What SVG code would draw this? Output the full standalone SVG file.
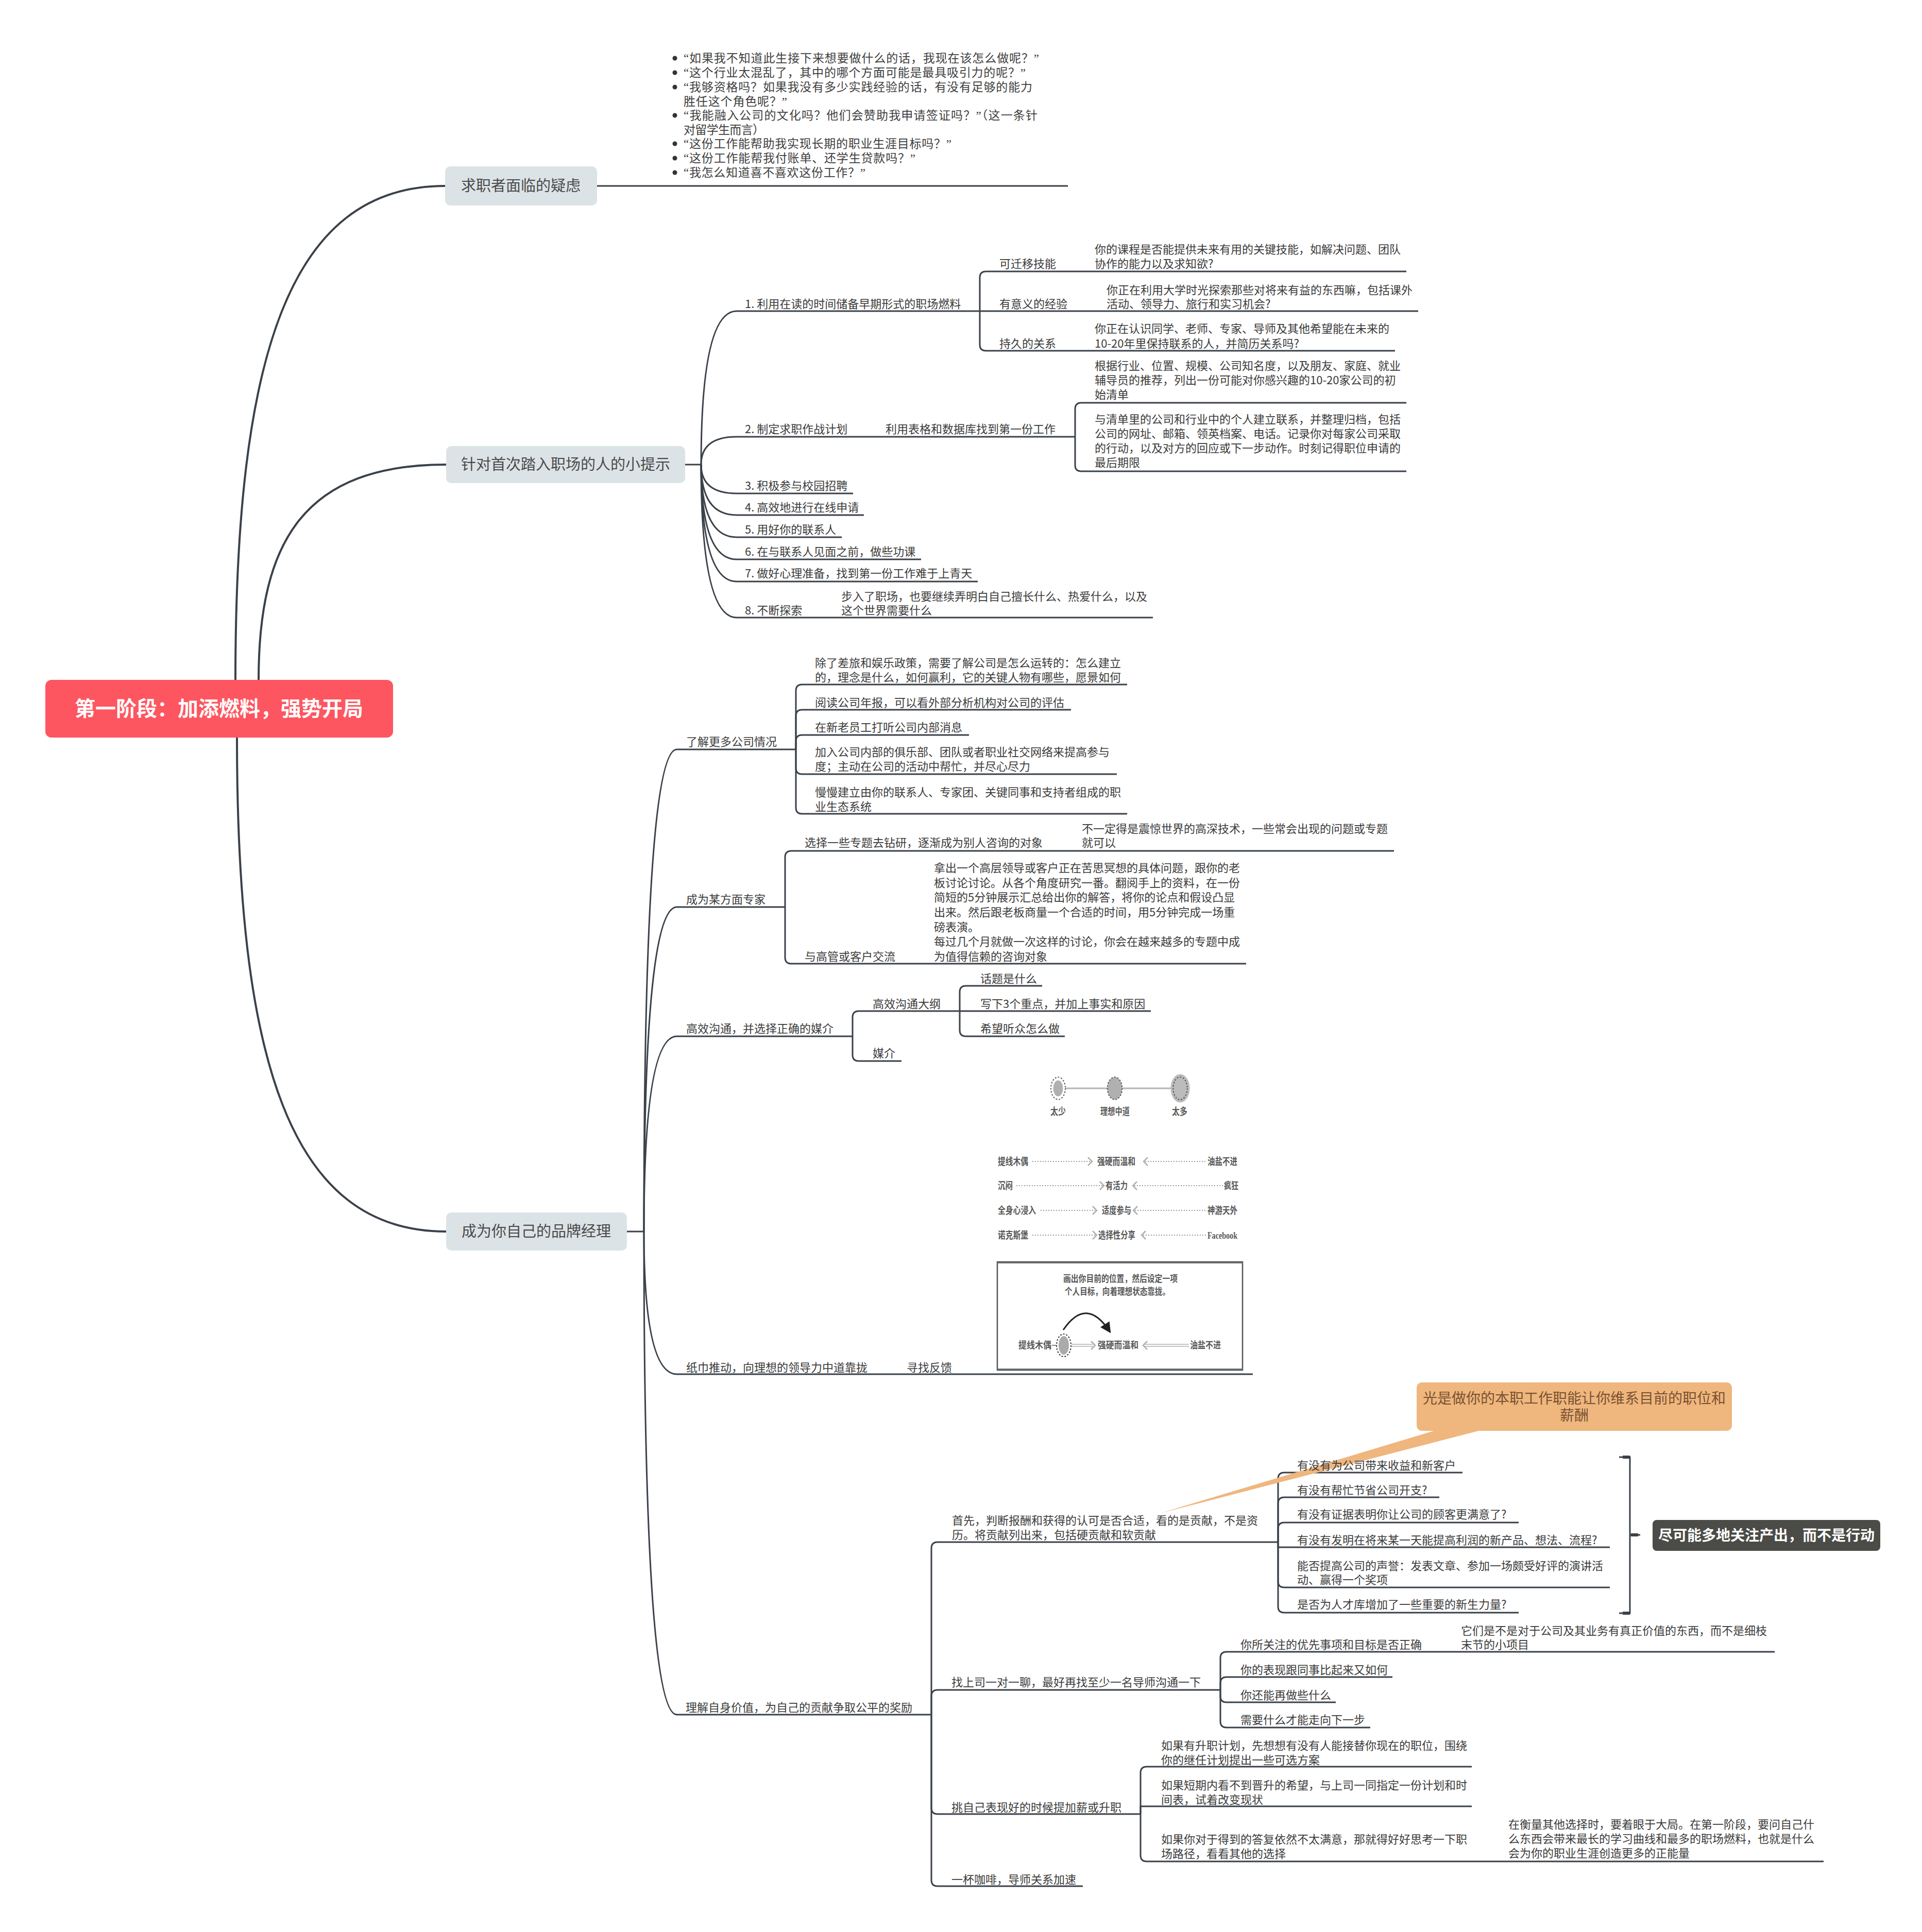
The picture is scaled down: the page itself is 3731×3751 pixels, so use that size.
<svg xmlns="http://www.w3.org/2000/svg" width="3731" height="3751" viewBox="0 0 3731 3751">
<defs>
<style>
.c{fill:none;stroke:#3a4149;stroke-width:3;stroke-linecap:butt}
.rc{fill:none;stroke:#3a4149;stroke-width:4}
.t{font-family:"Noto Sans CJK SC","Liberation Sans",sans-serif;font-size:22px;fill:#3b3b3b}
.mb{font-family:"Noto Sans CJK SC","Liberation Sans",sans-serif;font-size:29px;fill:#4a4a4a;text-anchor:middle}
.rt{font-family:"Noto Sans CJK SC","Liberation Sans",sans-serif;font-size:40px;font-weight:bold;fill:#ffffff;text-anchor:middle}
.sm{font-family:"Noto Sans CJK SC","Liberation Sans",sans-serif;font-size:28px;font-weight:bold;fill:#ffffff;text-anchor:middle}
.co{font-family:"Noto Sans CJK SC","Liberation Sans",sans-serif;font-size:28px;fill:#7a5230;text-anchor:middle}
.bl{font-family:"Liberation Serif","Noto Sans CJK SC",serif;font-size:23px;fill:#404040}
.sf{font-family:"Liberation Serif","Noto Sans CJK SC",serif;font-weight:bold;fill:#585858;font-size:19px}
.dot{fill:none;stroke:#9a9a9a;stroke-width:2;stroke-dasharray:2 3}
.chev{fill:none;stroke:#b0b0b0;stroke-width:2.5}
.gl{fill:none;stroke:#b4b4b4;stroke-width:3}
</style>
<marker id="ah" viewBox="0 0 10 10" refX="8" refY="5" markerWidth="7" markerHeight="7" orient="auto">
<path d="M0,0 L10,5 L0,10 z" fill="#222"/>
</marker>
</defs>
<rect width="3731" height="3751" fill="#ffffff"/>

<g id="connectors">
<path class="rc" d="M457,1320 C457,697 559,361 864,361"/>
<path class="rc" d="M502,1320 C502,1048 593,902 866,902"/>
<path class="rc" d="M460,1432 C460,2055 561,2391 866,2391"/>
<path class="c" d="M1159,361 H2073"/>
<path class="c" d="M1330,902 H1361"/>
<path class="c" d="M1361,902 Q1361,604 1430,604 H1902"/>
<path class="c" d="M1361,902 Q1361,848 1430,848 H2087"/>
<path class="c" d="M1361,902 Q1361,958 1430,958 H1656"/>
<path class="c" d="M1361,902 Q1361,1000 1430,1000 H1677"/>
<path class="c" d="M1361,902 Q1361,1043 1430,1043 H1634"/>
<path class="c" d="M1361,902 Q1361,1086 1430,1086 H1788"/>
<path class="c" d="M1361,902 Q1361,1129 1430,1129 H1898"/>
<path class="c" d="M1361,902 Q1361,1199 1430,1199 H2238"/>
<path class="c" d="M1902,604 V539 Q1902,527 1914,527 H2730"/>
<path class="c" d="M1902,604 H2753"/>
<path class="c" d="M1902,604 V669 Q1902,681 1914,681 H2708"/>
<path class="c" d="M2087,848 V794 Q2087,782 2099,782 H2730"/>
<path class="c" d="M2087,848 V903 Q2087,915 2099,915 H2730"/>
<path class="c" d="M1217,2391 H1250"/>
<path class="c" d="M1250,2391 Q1250,1455 1314,1455 H1545"/>
<path class="c" d="M1250,2391 Q1250,1761 1314,1761 H1524"/>
<path class="c" d="M1250,2391 Q1250,2012 1314,2012 H1655"/>
<path class="c" d="M1250,2391 Q1250,2668 1314,2668 H2432"/>
<path class="c" d="M1250,2391 Q1250,3329 1314,3329 H1808"/>
<path class="c" d="M1545,1455 V1341 Q1545,1329 1557,1329 H2188"/>
<path class="c" d="M1545,1455 V1390 Q1545,1378 1557,1378 H2079"/>
<path class="c" d="M1545,1455 V1439 Q1545,1427 1557,1427 H1881"/>
<path class="c" d="M1545,1455 V1491 Q1545,1503 1557,1503 H2168"/>
<path class="c" d="M1545,1455 V1568 Q1545,1580 1557,1580 H2188"/>
<path class="c" d="M1524,1761 V1664 Q1524,1652 1536,1652 H2706"/>
<path class="c" d="M1524,1761 V1859 Q1524,1871 1536,1871 H2419"/>
<path class="c" d="M1655,2012 V1975 Q1655,1963 1667,1963 H1863"/>
<path class="c" d="M1655,2012 V2048 Q1655,2060 1667,2060 H1750"/>
<path class="c" d="M1863,1963 V1926 Q1863,1914 1875,1914 H2023"/>
<path class="c" d="M1863,1963 H2234"/>
<path class="c" d="M1863,1963 V2000 Q1863,2012 1875,2012 H2067"/>
<path class="c" d="M1808,3329 V3006 Q1808,2994 1820,2994 H2481"/>
<path class="c" d="M1808,3329 V3293 Q1808,3281 1820,3281 H2369"/>
<path class="c" d="M1808,3329 V3510 Q1808,3522 1820,3522 H2214"/>
<path class="c" d="M1808,3329 V3650 Q1808,3662 1820,3662 H2102"/>
<path class="c" d="M2481,2994 V2871 Q2481,2859 2493,2859 H2839"/>
<path class="c" d="M2481,2994 V2919 Q2481,2907 2493,2907 H2794"/>
<path class="c" d="M2481,2994 V2968 Q2481,2956 2493,2956 H2948"/>
<path class="c" d="M2481,2994 V3004 H3125"/>
<path class="c" d="M2481,2994 V3070 Q2481,3082 2493,3082 H3125"/>
<path class="c" d="M2481,2994 V3119 Q2481,3131 2493,3131 H2948"/>
<path class="c" d="M2369,3281 V3219 Q2369,3207 2381,3207 H3445"/>
<path class="c" d="M2369,3281 V3268 Q2369,3256 2381,3256 H2703"/>
<path class="c" d="M2369,3281 V3293 Q2369,3305 2381,3305 H2593"/>
<path class="c" d="M2369,3281 V3342 Q2369,3354 2381,3354 H2660"/>
<path class="c" d="M2214,3522 V3442 Q2214,3430 2226,3430 H2857"/>
<path class="c" d="M2214,3522 V3507 H2857"/>
<path class="c" d="M2214,3522 V3602 Q2214,3614 2226,3614 H3540"/>
<path class="c" d="M3143,2829 H3164 V3132 H3143 M3164,2980 H3184"/>
<path class="c" style="stroke-width:6" d="M3150,2829 H3164 M3150,3132 H3164 M3166,2980 H3180"/>
</g>

<g id="n-root">
<rect x="88" y="1320" width="675" height="112" rx="12" fill="#fd5660"/>
<text class="rt" x="425" y="1390">第一阶段：加添燃料，强势开局</text>
</g>

<g id="n-b1">
<rect x="864" y="323" width="295" height="76" rx="10" fill="#dce3e6"/>
<text class="mb" x="1011" y="371">求职者面临的疑虑</text>
</g>
<g id="n-b1-list">
<circle cx="1310" cy="113" r="4.5" fill="#333"/>
<circle cx="1310" cy="141" r="4.5" fill="#333"/>
<circle cx="1310" cy="169" r="4.5" fill="#333"/>
<circle cx="1310" cy="224" r="4.5" fill="#333"/>
<circle cx="1310" cy="279" r="4.5" fill="#333"/>
<circle cx="1310" cy="307" r="4.5" fill="#333"/>
<circle cx="1310" cy="335" r="4.5" fill="#333"/>
<text class="bl" x="1327" y="121" textLength="690">“如果我不知道此生接下来想要做什么的话，我现在该怎么做呢？”</text>
<text class="bl" x="1327" y="149" textLength="664">“这个行业太混乱了，其中的哪个方面可能是最具吸引力的呢？”</text>
<text class="bl" x="1327" y="177" textLength="677">“我够资格吗？如果我没有多少实践经验的话，有没有足够的能力</text>
<text class="bl" x="1327" y="205" textLength="201">胜任这个角色呢？”</text>
<text class="bl" x="1327" y="232" textLength="687">“我能融入公司的文化吗？他们会赞助我申请签证吗？”（这一条针</text>
<text class="bl" x="1327" y="260" textLength="157">对留学生而言）</text>
<text class="bl" x="1327" y="287" textLength="520">“这份工作能帮助我实现长期的职业生涯目标吗？”</text>
<text class="bl" x="1327" y="315" textLength="450">“这份工作能帮我付账单、还学生贷款吗？”</text>
<text class="bl" x="1327" y="343" textLength="353">“我怎么知道喜不喜欢这份工作？”</text>
</g>

<g id="n-b2">
<rect x="866" y="866" width="464" height="72" rx="10" fill="#dce3e6"/>
<text class="mb" x="1098" y="912">针对首次踏入职场的人的小提示</text>
</g>
<g id="n-b2-items">
<text class="t" x="1446" y="598">1. 利用在读的时间储备早期形式的职场燃料</text>
<text class="t" x="1940" y="520">可迁移技能</text>
<text class="t" x="2125" y="492">你的课程是否能提供未来有用的关键技能，如解决问题、团队</text>
<text class="t" x="2125" y="520">协作的能力以及求知欲?</text>
<text class="t" x="1940" y="598">有意义的经验</text>
<text class="t" x="2148" y="571">你正在利用大学时光探索那些对将来有益的东西嘛，包括课外</text>
<text class="t" x="2148" y="598">活动、领导力、旅行和实习机会?</text>
<text class="t" x="1940" y="675">持久的关系</text>
<text class="t" x="2125" y="646">你正在认识同学、老师、专家、导师及其他希望能在未来的</text>
<text class="t" x="2125" y="675">10-20年里保持联系的人，并简历关系吗?</text>
<text class="t" x="1446" y="841">2. 制定求职作战计划</text>
<text class="t" x="1719" y="841">利用表格和数据库找到第一份工作</text>
<text class="t" x="2125" y="718">根据行业、位置、规模、公司知名度，以及朋友、家庭、就业</text>
<text class="t" x="2125" y="746">辅导员的推荐，列出一份可能对你感兴趣的10-20家公司的初</text>
<text class="t" x="2125" y="774">始清单</text>
<text class="t" x="2125" y="822">与清单里的公司和行业中的个人建立联系，并整理归档，包括</text>
<text class="t" x="2125" y="850">公司的网址、邮箱、领英档案、电话。记录你对每家公司采取</text>
<text class="t" x="2125" y="878">的行动，以及对方的回应或下一步动作。时刻记得职位申请的</text>
<text class="t" x="2125" y="906">最后期限</text>
<text class="t" x="1446" y="951">3. 积极参与校园招聘</text>
<text class="t" x="1446" y="993">4. 高效地进行在线申请</text>
<text class="t" x="1446" y="1036">5. 用好你的联系人</text>
<text class="t" x="1446" y="1079">6. 在与联系人见面之前，做些功课</text>
<text class="t" x="1446" y="1121">7. 做好心理准备，找到第一份工作难于上青天</text>
<text class="t" x="1446" y="1193">8. 不断探索</text>
<text class="t" x="1633" y="1166">步入了职场，也要继续弄明白自己擅长什么、热爱什么，以及</text>
<text class="t" x="1633" y="1193">这个世界需要什么</text>
</g>

<g id="n-b3">
<rect x="866" y="2354" width="351" height="74" rx="10" fill="#dce3e6"/>
<text class="mb" x="1041" y="2401">成为你自己的品牌经理</text>
</g>
<g id="n-b3-company">
<text class="t" x="1332" y="1448">了解更多公司情况</text>
<text class="t" x="1582" y="1295">除了差旅和娱乐政策，需要了解公司是怎么运转的：怎么建立</text>
<text class="t" x="1582" y="1323">的，理念是什么，如何赢利，它的关键人物有哪些，愿景如何</text>
<text class="t" x="1582" y="1372">阅读公司年报，可以看外部分析机构对公司的评估</text>
<text class="t" x="1582" y="1420">在新老员工打听公司内部消息</text>
<text class="t" x="1582" y="1468">加入公司内部的俱乐部、团队或者职业社交网络来提高参与</text>
<text class="t" x="1582" y="1496">度；主动在公司的活动中帮忙，并尽心尽力</text>
<text class="t" x="1582" y="1546">慢慢建立由你的联系人、专家团、关键同事和支持者组成的职</text>
<text class="t" x="1582" y="1574">业生态系统</text>
</g>
<g id="n-b3-expert">
<text class="t" x="1332" y="1754">成为某方面专家</text>
<text class="t" x="1562" y="1644">选择一些专题去钻研，逐渐成为别人咨询的对象</text>
<text class="t" x="2100" y="1617">不一定得是震惊世界的高深技术，一些常会出现的问题或专题</text>
<text class="t" x="2100" y="1644">就可以</text>
<text class="t" x="1562" y="1865">与高管或客户交流</text>
<text class="t" x="1813" y="1693">拿出一个高层领导或客户正在苦思冥想的具体问题，跟你的老</text>
<text class="t" x="1813" y="1722">板讨论讨论。从各个角度研究一番。翻阅手上的资料，在一份</text>
<text class="t" x="1813" y="1750">简短的5分钟展示汇总给出你的解答，将你的论点和假设凸显</text>
<text class="t" x="1813" y="1779">出来。然后跟老板商量一个合适的时间，用5分钟完成一场重</text>
<text class="t" x="1813" y="1808">磅表演。</text>
<text class="t" x="1813" y="1836">每过几个月就做一次这样的讨论，你会在越来越多的专题中成</text>
<text class="t" x="1813" y="1865">为值得信赖的咨询对象</text>
</g>
<g id="n-b3-comm">
<text class="t" x="1332" y="2005">高效沟通，并选择正确的媒介</text>
<text class="t" x="1694" y="1957">高效沟通大纲</text>
<text class="t" x="1903" y="1908">话题是什么</text>
<text class="t" x="1903" y="1957">写下3个重点，并加上事实和原因</text>
<text class="t" x="1903" y="2005">希望听众怎么做</text>
<text class="t" x="1694" y="2053">媒介</text>
</g>
<g id="n-spectrum">
<line class="gl" x1="2068" y1="2113" x2="2150" y2="2113"/>
<line class="gl" x1="2179" y1="2113" x2="2273" y2="2113"/>
<ellipse cx="2054" cy="2113" rx="14" ry="21.7" fill="#fff" stroke="#555" stroke-width="2" stroke-dasharray="3 3"/>
<ellipse cx="2054" cy="2113" rx="9.5" ry="15.5" fill="#b0b0b0"/>
<ellipse cx="2164" cy="2113" rx="14.3" ry="21.7" fill="#b0b0b0" stroke="#555" stroke-width="2" stroke-dasharray="3 3"/>
<ellipse cx="2291" cy="2113" rx="18.6" ry="27.5" fill="#bcbcbc"/>
<ellipse cx="2291" cy="2113" rx="13.7" ry="22" fill="none" stroke="#555" stroke-width="2" stroke-dasharray="3 3"/>
<text class="sf" x="2039" y="2165" textLength="30" lengthAdjust="spacingAndGlyphs">太少</text>
<text class="sf" x="2136" y="2165" textLength="57" lengthAdjust="spacingAndGlyphs">理想中道</text>
<text class="sf" x="2275" y="2165" textLength="30" lengthAdjust="spacingAndGlyphs">太多</text>
<text class="sf" x="1937" y="2262" textLength="59" lengthAdjust="spacingAndGlyphs">提线木偶</text>
<line class="dot" x1="2004" y1="2255" x2="2117" y2="2255"/>
<polyline class="chev" points="2112,2247 2120,2255 2112,2263"/>
<text class="sf" x="2130" y="2262" textLength="74" lengthAdjust="spacingAndGlyphs">强硬而温和</text>
<polyline class="chev" points="2228,2247 2220,2255 2228,2263"/>
<line class="dot" x1="2223" y1="2255" x2="2343" y2="2255"/>
<text class="sf" x="2344" y="2262" textLength="58" lengthAdjust="spacingAndGlyphs">油盐不进</text>
<text class="sf" x="1937" y="2309" textLength="29" lengthAdjust="spacingAndGlyphs">沉闷</text>
<line class="dot" x1="1973" y1="2302" x2="2140" y2="2302"/>
<polyline class="chev" points="2135,2294 2143,2302 2135,2310"/>
<text class="sf" x="2146" y="2309" textLength="43" lengthAdjust="spacingAndGlyphs">有活力</text>
<polyline class="chev" points="2207,2294 2199,2302 2207,2310"/>
<line class="dot" x1="2202" y1="2302" x2="2375" y2="2302"/>
<text class="sf" x="2376" y="2309" textLength="28" lengthAdjust="spacingAndGlyphs">疯狂</text>
<text class="sf" x="1937" y="2357" textLength="74" lengthAdjust="spacingAndGlyphs">全身心浸入</text>
<line class="dot" x1="2020" y1="2350" x2="2126" y2="2350"/>
<polyline class="chev" points="2121,2342 2129,2350 2121,2358"/>
<text class="sf" x="2139" y="2357" textLength="57" lengthAdjust="spacingAndGlyphs">适度参与</text>
<polyline class="chev" points="2208,2342 2200,2350 2208,2358"/>
<line class="dot" x1="2203" y1="2350" x2="2343" y2="2350"/>
<text class="sf" x="2344" y="2357" textLength="58" lengthAdjust="spacingAndGlyphs">神游天外</text>
<text class="sf" x="1937" y="2405" textLength="59" lengthAdjust="spacingAndGlyphs">诺克斯堡</text>
<line class="dot" x1="2004" y1="2398" x2="2126" y2="2398"/>
<polyline class="chev" points="2121,2390 2129,2398 2121,2406"/>
<text class="sf" x="2132" y="2405" textLength="72" lengthAdjust="spacingAndGlyphs">选择性分享</text>
<polyline class="chev" points="2224,2390 2216,2398 2224,2406"/>
<line class="dot" x1="2219" y1="2398" x2="2343" y2="2398"/>
<text class="sf" x="2344" y="2405" textLength="58" lengthAdjust="spacingAndGlyphs">Facebook</text>
</g>
<g id="n-b3-nudge">
<text class="t" x="1332" y="2663">纸巾推动，向理想的领导力中道靠拢</text>
<text class="t" x="1760" y="2663">寻找反馈</text>
</g>
<g id="n-frame">
<rect x="1936" y="2450" width="476" height="210" fill="#fff" stroke="#555" stroke-width="2.5"/>
<line x1="1936" y1="2452" x2="2412" y2="2452" stroke="#777" stroke-width="2"/>
<line x1="1936" y1="2658" x2="2412" y2="2658" stroke="#777" stroke-width="2"/>
<text class="sf" style="font-size:18px" x="2064" y="2489" textLength="222" lengthAdjust="spacingAndGlyphs">画出你目前的位置，然后设定一项</text>
<text class="sf" style="font-size:18px" x="2067" y="2514" textLength="204" lengthAdjust="spacingAndGlyphs">个人目标，向着理想状态靠拢。</text>
<path d="M2064,2582 Q2109,2516 2154,2585" fill="none" stroke="#222" stroke-width="3" marker-end="url(#ah)"/>
<text class="sf" style="font-size:18px" x="1977" y="2618" textLength="64" lengthAdjust="spacingAndGlyphs">提线木偶</text>
<line x1="2042" y1="2612" x2="2052" y2="2612" stroke="#888" stroke-width="2"/>
<ellipse cx="2065" cy="2612" rx="14" ry="22" fill="#fff" stroke="#333" stroke-width="2" stroke-dasharray="3 3"/>
<ellipse cx="2065" cy="2612" rx="10" ry="18" fill="#ababab"/>
<line x1="2080" y1="2610" x2="2122" y2="2610" stroke="#b0b0b0" stroke-width="1.5"/>
<line x1="2080" y1="2614" x2="2122" y2="2614" stroke="#b0b0b0" stroke-width="1.5"/>
<polyline class="chev" points="2118,2604 2126,2612 2118,2620"/>
<text class="sf" style="font-size:18px" x="2131" y="2618" textLength="79" lengthAdjust="spacingAndGlyphs">强硬而温和</text>
<polyline class="chev" points="2227,2604 2219,2612 2227,2620"/>
<line x1="2222" y1="2610" x2="2308" y2="2610" stroke="#b0b0b0" stroke-width="1.5"/>
<line x1="2222" y1="2614" x2="2308" y2="2614" stroke="#b0b0b0" stroke-width="1.5"/>
<text class="sf" style="font-size:18px" x="2310" y="2618" textLength="60" lengthAdjust="spacingAndGlyphs">油盐不进</text>
</g>

<g id="n-callout">
<polygon points="2790,2776 2878,2776 2252,2938" fill="#efb67e"/>
<rect x="2750" y="2684" width="612" height="94" rx="10" fill="#efb67e"/>
<text class="co" x="3056" y="2725">光是做你的本职工作职能让你维系目前的职位和</text>
<text class="co" x="3056" y="2758">薪酬</text>
</g>

<g id="n-b3-value">
<text class="t" x="1331" y="3323">理解自身价值，为自己的贡献争取公平的奖励</text>
<text class="t" x="1848" y="2960">首先，判断报酬和获得的认可是否合适，看的是贡献，不是资</text>
<text class="t" x="1848" y="2988">历。将贡献列出来，包括硬贡献和软贡献</text>
<text class="t" x="2518" y="2853">有没有为公司带来收益和新客户</text>
<text class="t" x="2518" y="2901">有没有帮忙节省公司开支?</text>
<text class="t" x="2518" y="2948">有没有证据表明你让公司的顾客更满意了?</text>
<text class="t" x="2518" y="2998">有没有发明在将来某一天能提高利润的新产品、想法、流程?</text>
<text class="t" x="2518" y="3048">能否提高公司的声誉：发表文章、参加一场颇受好评的演讲活</text>
<text class="t" x="2518" y="3075">动、赢得一个奖项</text>
<text class="t" x="2518" y="3123">是否为人才库增加了一些重要的新生力量?</text>
<text class="t" x="1847" y="3274">找上司一对一聊，最好再找至少一名导师沟通一下</text>
<text class="t" x="2408" y="3201">你所关注的优先事项和目标是否正确</text>
<text class="t" x="2836" y="3174">它们是不是对于公司及其业务有真正价值的东西，而不是细枝</text>
<text class="t" x="2836" y="3201">末节的小项目</text>
<text class="t" x="2408" y="3250">你的表现跟同事比起来又如何</text>
<text class="t" x="2408" y="3299">你还能再做些什么</text>
<text class="t" x="2408" y="3347">需要什么才能走向下一步</text>
<text class="t" x="1847" y="3517">挑自己表现好的时候提加薪或升职</text>
<text class="t" x="2254" y="3397">如果有升职计划，先想想有没有人能接替你现在的职位，围绕</text>
<text class="t" x="2254" y="3425">你的继任计划提出一些可选方案</text>
<text class="t" x="2254" y="3474">如果短期内看不到晋升的希望，与上司一同指定一份计划和时</text>
<text class="t" x="2254" y="3502">间表，试着改变现状</text>
<text class="t" x="2254" y="3579">如果你对于得到的答复依然不太满意，那就得好好思考一下职</text>
<text class="t" x="2254" y="3607">场路径，看看其他的选择</text>
<text class="t" x="2928" y="3550">在衡量其他选择时，要着眼于大局。在第一阶段，要问自己什</text>
<text class="t" x="2928" y="3578">么东西会带来最长的学习曲线和最多的职场燃料，也就是什么</text>
<text class="t" x="2928" y="3606">会为你的职业生涯创造更多的正能量</text>
<text class="t" x="1847" y="3657">一杯咖啡，导师关系加速</text>
</g>

<g id="n-summary">
<rect x="3208" y="2951" width="442" height="60" rx="8" fill="#4b4b47"/>
<text class="sm" x="3429" y="2991">尽可能多地关注产出，而不是行动</text>
</g>
</svg>
